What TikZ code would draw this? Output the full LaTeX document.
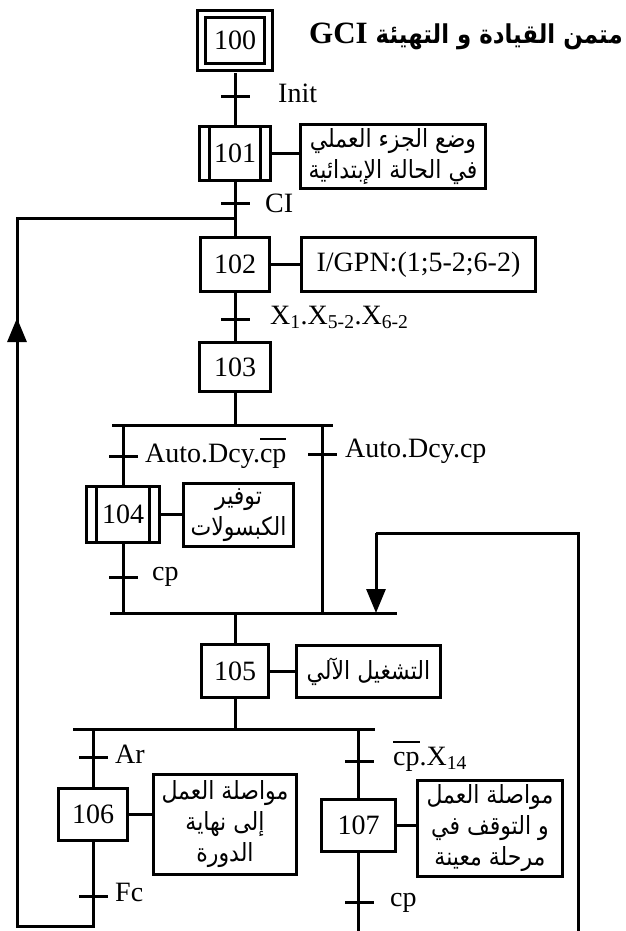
\documentclass[tikz,border=0pt]{standalone}
\usepackage{fontspec}
\setmainfont{Liberation Serif}
\newfontfamily\arabicfont[Script=Arabic,FakeStretch=0.88]{DejaVu Sans}
\TeXXeTstate=1
\usetikzlibrary{arrows.meta,positioning,calc}
\newcommand\cpbar{\leavevmode\setbox0\hbox{cp}\rlap{\raisebox{0.8em}{\rule{\wd0}{1.6pt}}}\box0}
\tikzset{
  stepbox/.style={draw,line width=3pt,minimum width=68.5pt,minimum height=52.5pt,inner sep=0pt,font=\fontsize{28}{32}\selectfont},
  initstep/.style={stepbox,double,double distance=4.5pt,minimum width=67pt,minimum height=53pt},
  macrostep/.style={stepbox,path picture={
      \draw[line width=3pt] ([xshift=10pt]path picture bounding box.north west) -- ([xshift=10pt]path picture bounding box.south west)
        ([xshift=-10pt]path picture bounding box.north east) -- ([xshift=-10pt]path picture bounding box.south east);}},
  actionbox/.style={draw,line width=3pt,inner sep=0pt,align=center,font=\arabicfont\fontsize{25}{31}\selectfont},
  latinaction/.style={actionbox,font=\fontsize{28}{32}\selectfont},
  transbar/.style={fill=black,minimum width=29pt,minimum height=3pt,inner sep=0pt},
  translabel/.style={anchor=mid west,inner sep=0pt,font=\fontsize{28}{32}\selectfont},
  link/.style={line width=3pt},
  looparrow/.style={line width=3pt,-{Triangle[length=24pt,width=19pt]}}
}

\begin{document}
\begin{tikzpicture}[x=1pt,y=-1pt,line join=miter]
\useasboundingbox (0,0) rectangle (625,931);
% steps and actions
\node[initstep] (s100) at (235,40.5) {100};
\node[anchor=east,inner sep=0pt] (title) at (623,36)
  {\arabicfont\bfseries\fontsize{26}{30}\selectfont\beginR متمن القيادة و التهيئة \beginL{\rmfamily\fontsize{31}{30}\selectfont GCI}\endL\endR};
\node[macrostep,minimum width=71pt,minimum height=54pt] (m101) at (235,153.5) {101};
\node[actionbox,minimum width=185pt,minimum height=64pt] (a101) at (393,156.5)
  {\beginR وضع الجزء العملي\endR\\\beginR في الحالة الإبتدائية\endR};
\node[stepbox,minimum height=54pt] (s102) at (235,264.5) {102};
\node[latinaction,minimum width=234pt,minimum height=54pt] (a102) at (418.5,264.5) {I/GPN:(1;5-2;6-2)};
\node[stepbox,minimum width=71pt,minimum height=49.5pt] (s103) at (235,367) {103};
\node[macrostep,minimum width=73pt,minimum height=56pt] (m104) at (123,514.5) {104};
\node[actionbox,minimum width=110pt,minimum height=63pt] (a104) at (238.5,515)
  {\beginR توفير\endR\\\beginR الكبسولات\endR};
\node[stepbox,minimum width=67.5pt] (s105) at (235,671) {105};
\node[actionbox,minimum width=144pt,minimum height=52pt] (a105) at (368.5,671.5) {\beginR التشغيل الآلي\endR};
\node[stepbox,minimum width=69.5pt] (s106) at (93,814.5) {106};
\node[actionbox,minimum width=143pt,minimum height=100pt] (a106) at (225,824.5)
  {\beginR مواصلة العمل\endR\\\beginR إلى نهاية\endR\\\beginR الدورة\endR};
\node[stepbox,minimum width=74pt] (s107) at (358.5,825.5) {107};
\node[actionbox,minimum width=145pt,minimum height=96pt] (a107) at (490,828.5)
  {\beginR مواصلة العمل\endR\\\beginR و التوقف في\endR\\\beginR مرحلة معينة\endR};
% coordinates of the branches
\coordinate (d1l) at (112,425); \coordinate (d1r) at (333,425);
\coordinate (c1l) at (110,613); \coordinate (c1r) at (397,613);
\coordinate (d2l) at (73,729);  \coordinate (d2r) at (375,729);
\coordinate (rb1) at (322,425);
\coordinate (rb2) at (359,931);
\coordinate (lbot) at (93,926); \coordinate (lcorner) at (17,926);
\coordinate (larr) at (17,318); \coordinate (ltop) at (17,218); \coordinate (ljoin) at (235,218);
\coordinate (rbot) at (578,931); \coordinate (rtop) at (578,533); \coordinate (rturn) at (376,533);
\coordinate (rarr) at (376,613);
% links
\draw[link,shorten <=5pt] (s100) -- (m101);
\draw[link] (m101) -- (s102);
\draw[link] (s102) -- (s103);
\draw[link] (s103) -- (s103 |- d1l);
\draw[link] (d1l) -- (d1r);
\draw[link] (m104 |- d1l) -- (m104);
\draw[link] (m104) -- (m104 |- c1l);
\draw[link] (rb1) -- (rb1 |- c1l);
\draw[link] (c1l) -- (c1r);
\draw[link] (s105 |- c1l) -- (s105);
\draw[link] (s105) -- (s105 |- d2l);
\draw[link] (d2l) -- (d2r);
\draw[link] (s106 |- d2l) -- (s106);
\draw[link] (s107 |- d2l) -- (s107);
\draw[link] (s107) -- (s107 |- rb2);
\draw[link] (s106) -- (lbot) -- (lcorner) -- (larr) -- (ltop) -- (ljoin);
\draw[looparrow] (lcorner) -- (larr);
\draw[link] (rbot) -- (rtop) -- (rturn);
\draw[looparrow] (rturn) -- (rarr);
\draw[link] (m101.east) -- (m101.east -| a101.west);
\draw[link] (s102.east) -- (s102.east -| a102.west);
\draw[link] (m104.east) -- (m104.east -| a104.west);
\draw[link] (s105.east) -- (s105.east -| a105.west);
\draw[link] (s106.east) -- (s106.east -| a106.west);
\draw[link] (s107.east) -- (s107.east -| a107.west);
% transitions
\node[transbar] (t1) at (235,97) {};
\node[translabel] (t1l) at (278,100) {Init};
\node[transbar] (t2) at (235,203) {};
\node[translabel] (t2l) at (265,210) {CI};
\node[transbar] (t3) at (235,319) {};
\node[translabel] (t3l) at (270,322) {X\textsubscript{1}.X\textsubscript{5-2}.X\textsubscript{6-2}};
\node[transbar] (t4) at (123,456) {};
\node[translabel] (t4l) at (145,460) {Auto.Dcy.\cpbar};
\node[transbar] (t5) at (322,454) {};
\node[translabel] (t5l) at (345,455) {Auto.Dcy.cp};
\node[transbar] (t6) at (123,577) {};
\node[translabel] (t6l) at (152,578) {cp};
\node[transbar] (t7) at (93,757) {};
\node[translabel] (t7l) at (115,761) {Ar};
\node[transbar] (t8) at (359,761) {};
\node[translabel] (t8l) at (393,763) {\cpbar.X\textsubscript{14}};
\node[transbar] (t9) at (93,896) {};
\node[translabel] (t9l) at (115,899) {Fc};
\node[transbar] (t10) at (359,902) {};
\node[translabel] (t10l) at (390,904) {cp};
\end{tikzpicture}
\end{document}
